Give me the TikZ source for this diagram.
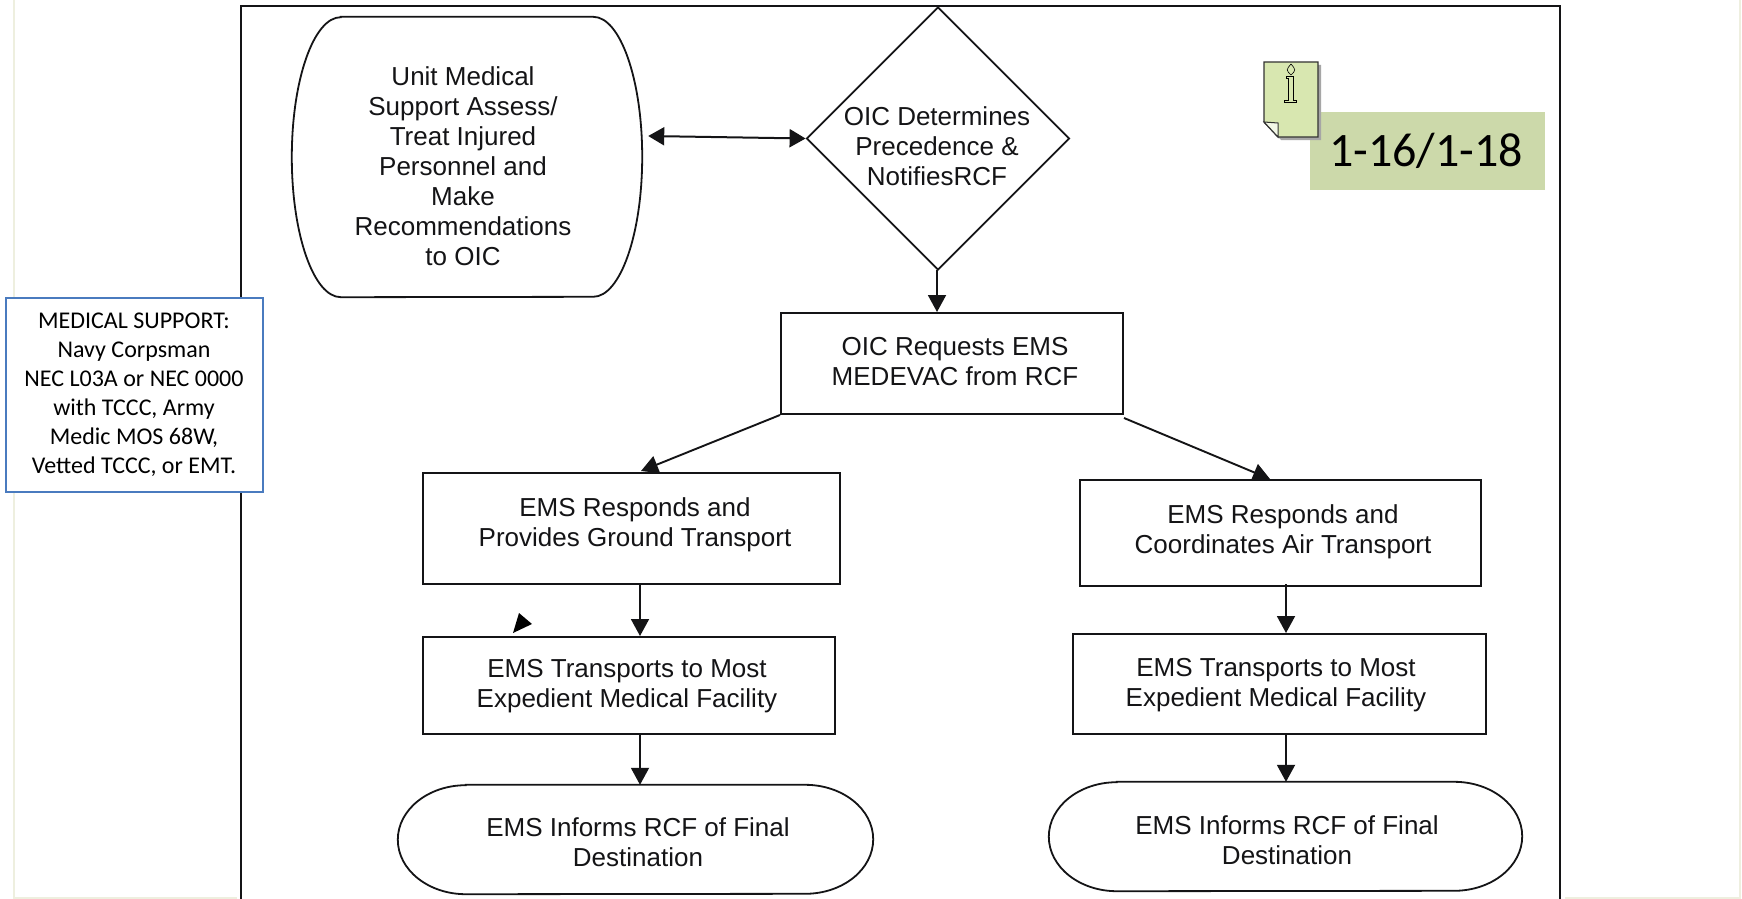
\documentclass[tikz,border=0pt]{standalone}
\usepackage{fontspec}
\setmainfont{Liberation Sans}
\newfontfamily\cali{Carlito}
\usetikzlibrary{arrows.meta,shapes.geometric}
\definecolor{ink}{HTML}{141416}
\definecolor{pale}{HTML}{EEEFDF}
\definecolor{notefill}{HTML}{D8E7B0}
\definecolor{tagfill}{HTML}{CCD9AA}
\definecolor{bluebox}{HTML}{4A7BBF}
% text inside a shape, offset from its centre by (#1,#2) px; #3 = lines
\newcommand{\flowtext}[3]{\makebox[0pt][c]{\hspace*{\dimexpr 2\dimexpr #1pt\relax\relax}\raisebox{\dimexpr -9.4pt - #2pt\relax}[0pt][0pt]{\begin{tabular}{@{}c@{}}#3\end{tabular}}}}
% outline with elliptical ends, round a named node
\newcommand{\softoutline}[3]{\draw[flowline,line width=1.8pt] ([xshift=#2pt]#1.north west) -- ([xshift=-#2pt]#1.north east)
  arc[start angle=90,end angle=-90,x radius=#2pt,y radius=#3pt]
  -- ([xshift=#2pt]#1.south west)
  arc[start angle=270,end angle=90,x radius=#2pt,y radius=#3pt] -- cycle;}
\tikzset{
  x=1pt,y=-1pt,
  flowline/.style={draw=ink,line cap=butt,line join=miter},
  flowfont/.style={font=\fontsize{26}{30}\selectfont,text=ink,inner sep=0pt},
  flowbox/.style={flowfont,flowline,line width=2pt,rectangle,fill=white},
  softbox/.style={flowfont,rectangle,draw=none},
  decision/.style={flowfont,flowline,line width=1.8pt,diamond,fill=white},
  conn/.style={draw=ink,line width=1.9pt,-{Triangle[length=17pt,width=18pt]}},
  conn2/.style={draw=ink,line width=2pt,{Triangle[length=16pt,width=18pt]}-{Triangle[length=16pt,width=18pt]}},
}
\begin{document}
\begin{tikzpicture}
\useasboundingbox (0,0) rectangle (1742,899);
\fill[white] (0,0) rectangle (1742,899);
% page edges
\coordinate (pa) at (14,0); \coordinate (pb) at (14,898); \coordinate (pc) at (237,898);
\coordinate (pd) at (1565,898); \coordinate (pe) at (1740,898); \coordinate (pf) at (1740,0);
\draw[pale,line width=1.5pt] (pa) -- (pb) -- (pc);
\draw[pale,line width=1.5pt] (pd) -- (pe) -- (pf);
% frame
\coordinate (fa) at (241,899); \coordinate (fb) at (241,6); \coordinate (fc) at (1560,6); \coordinate (fd) at (1560,899);
\draw[draw=ink,line width=2pt] (fa) -- (fb) -- (fc) -- (fd);

% decision
\node[decision,minimum width=263pt,minimum height=263pt] (dec) at (938,138.5) {\flowtext{-1}{7.5}{OIC Determines\\Precedence \&\\NotifiesRCF}};

% unit medical
\node[softbox,minimum width=350pt,minimum height=280pt] (unit) at (467,157) {\flowtext{-4}{9}{Unit Medical\\Support Assess/\\Treat Injured\\Personnel and\\Make\\Recommendations\\to OIC}};
\softoutline{unit}{49}{140}

% boxes
\node[flowbox,minimum width=342pt,minimum height=101pt] (req) at (952,363.5) {\flowtext{3}{-2.5}{OIC Requests EMS\\MEDEVAC from RCF}};
\node[flowbox,minimum width=417pt,minimum height=111pt] (gnd) at (631.5,528.5) {\flowtext{3.5}{-6.5}{EMS Responds and\\Provides Ground Transport}};
\node[flowbox,minimum width=412pt,minimum height=97pt] (gtr) at (629,685.5) {\flowtext{-2}{-2}{EMS Transports to Most\\Expedient Medical Facility}};
\node[flowbox,minimum width=401pt,minimum height=106pt] (air) at (1280.5,533) {\flowtext{2.5}{-3.5}{EMS Responds and\\Coordinates Air Transport}};
\node[flowbox,minimum width=413pt,minimum height=100pt] (atr) at (1279.5,684) {\flowtext{-3.5}{-2}{EMS Transports to Most\\Expedient Medical Facility}};
\node[softbox,minimum width=475pt,minimum height=109pt] (gin) at (635.5,839.5) {\flowtext{2.5}{3}{EMS Informs RCF of Final\\Destination}};
\softoutline{gin}{68}{54.5}
\node[softbox,minimum width=473pt,minimum height=109pt] (ain) at (1285.5,836.5) {\flowtext{1.5}{4}{EMS Informs RCF of Final\\Destination}};
\softoutline{ain}{68}{54.5}

% connectors
\draw[conn2] ([xshift=6pt,yshift=21pt]unit.east) -- (dec.west);
\draw[conn] ([xshift=-1pt,yshift=1pt]dec.south) -- ([xshift=-15pt]req.north);
\draw[conn] (req.south west) -- ([xshift=9.5pt,yshift=1pt]gnd.north);
\draw[conn] ([yshift=-3pt]req.south east) -- ([xshift=-10.5pt]air.north);
\draw[conn] ([xshift=8.5pt]gnd.south) -- ([xshift=11pt]gtr.north);
\draw[conn] ([xshift=11pt]gtr.south) -- ([xshift=4.5pt]gin.north);
\draw[conn] ([xshift=5.5pt,yshift=3pt]air.south) -- ([xshift=6.5pt]atr.north);
\draw[conn] ([xshift=6.5pt,yshift=2pt]atr.south) -- ([xshift=.5pt]ain.north);

% stray arrowhead
\coordinate (sa) at (519,613); \coordinate (sb) at (532,624); \coordinate (sc) at (513,633);
\fill[black] (sa) -- (sb) -- (sc) -- cycle;

% medical support box
\node[draw=bluebox,line width=2pt,fill=white,minimum width=257pt,minimum height=194pt,inner sep=0pt,align=center,font=\cali\fontsize{24}{29}\selectfont,text=black] (med) at (134,395)
{MEDICAL SUPPORT:\\Navy Corpsman\\NEC L03A or NEC 0000\\with TCCC, Army\\Medic MOS 68W,\\Vetted TCCC, or EMT.};

% reference tag
\node[fill=tagfill,minimum width=235pt,minimum height=78pt,inner sep=0pt,font=\cali\fontsize{48}{56}\selectfont,text=black] (tag) at (1427.5,151) {\hspace*{-3pt}1-16/1-18};

% note icon
\coordinate (na) at (1264,62); \coordinate (nb) at (1318,62); \coordinate (nc) at (1318,137);
\coordinate (nd) at (1278,137); \coordinate (ne) at (1264,122); \coordinate (nf) at (1278,123);
\fill[gray!70] ([shift={(3,3)}]na) -- ([shift={(3,3)}]nb) -- ([shift={(3,3)}]nc) -- ([shift={(3,3)}]nd) -- ([shift={(3,3)}]ne) -- cycle;
\draw[draw=black!80,line width=1.4pt,fill=notefill] (na) -- (nb) -- (nc) -- (nd) -- (ne) -- cycle;
\draw[draw=black!80,line width=1pt,fill=white!70!notefill] (ne) -- (nf) -- (nd) -- cycle;
% i glyph
\coordinate (i1) at (1291,64); \coordinate (i2) at (1296,70); \coordinate (i3) at (1291,75); \coordinate (i4) at (1286,70);
\draw[black,line width=.6pt] (i1) .. controls (i2) .. (i3) .. controls (i4) .. (i1);
\draw[black,line width=.8pt] (1286,76.5) -- (1293.5,76.5) -- (1293.5,100.5) -- (1296.5,100.5) -- (1296.5,102) -- (1284,102) -- (1284,100.5) -- (1288.5,100.5) -- (1288.5,78) -- (1286,78) -- cycle;
\end{tikzpicture}
\end{document}
